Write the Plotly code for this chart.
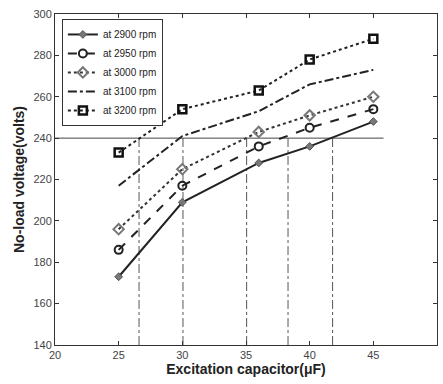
import plotly.graph_objects as go

capacitance = [25, 30, 36, 40, 45]
v_2900 = [173, 209, 228, 236, 248]
v_2950 = [186, 217, 236, 245, 254]
v_3000 = [196, 225, 243, 251, 260]
v_3100 = [217, 241, 253, 266, 273]
v_3200 = [233, 254, 263, 278, 288]
series_names = ["at 2900 rpm", "at 2950 rpm", "at 3000 rpm", "at 3100 rpm", "at 3200 rpm"]

rated_voltage = 240
hline_x = [20, 45.8]
crossing_caps = [26.6, 30.05, 35.05, 38.3, 41.8]
y_floor = 140

fig = go.Figure()

# reference horizontal line
fig.add_trace(go.Scatter(x=hline_x, y=[rated_voltage, rated_voltage], mode="lines",
                         line=dict(color="#444", width=1), showlegend=False, hoverinfo="skip"))
# vertical dash-dot lines
for c in crossing_caps:
    fig.add_trace(go.Scatter(x=[c, c], y=[y_floor, rated_voltage], mode="lines",
                             line=dict(color="#555", width=1, dash="dashdot"),
                             showlegend=False, hoverinfo="skip"))

styles = [
    dict(line=dict(color="#222", width=2, dash="solid"),
         marker=dict(symbol="diamond", size=6, color="#777", line=dict(color="#555", width=1))),
    dict(line=dict(color="#222", width=2, dash="dash"),
         marker=dict(symbol="circle-open", size=8, color="#222", line=dict(width=2))),
    dict(line=dict(color="#333", width=2, dash="dot"),
         marker=dict(symbol="diamond-open", size=8, color="#777", line=dict(width=2))),
    dict(line=dict(color="#222", width=2, dash="dashdot"),
         marker=dict(size=1, opacity=0)),
    dict(line=dict(color="#222", width=2, dash="dot"),
         marker=dict(symbol="square-open", size=8, color="#111", line=dict(width=2.5))),
]
series = [v_2900, v_2950, v_3000, v_3100, v_3200]
for name, vals, st in zip(series_names, series, styles):
    mode = "lines" if name == "at 3100 rpm" else "lines+markers"
    fig.add_trace(go.Scatter(x=capacitance, y=vals, mode=mode, name=name,
                             line=st["line"], marker=st["marker"]))

axis_common = dict(showline=True, linecolor="#333", linewidth=1, mirror="allticks",
                   ticks="inside", ticklen=4, tickcolor="#333", showgrid=False, zeroline=False,
                   automargin=False,
                   tickfont=dict(family="Liberation Sans, Arial", size=11, color="#444"))

fig.update_layout(
    width=443, height=384,
    margin=dict(l=55, r=6, t=14, b=39),
    paper_bgcolor="white", plot_bgcolor="white",
    font=dict(family="Liberation Sans, Arial", color="#222"),
    xaxis=dict(range=[20, 50], dtick=5, tick0=20,
               title=dict(text="<b>Excitation capacitor(μF)</b>", font=dict(size=14, color="#222"), standoff=3),
               **axis_common),
    yaxis=dict(range=[140, 300], dtick=20, tick0=140,
               title=dict(text="<b>No-load voltage(volts)</b>", font=dict(size=14, color="#222"), standoff=5),
               **axis_common),
    legend=dict(x=0.018, y=0.985, xanchor="left", yanchor="top", bgcolor="white",
                bordercolor="#333", borderwidth=1, font=dict(size=10, color="#222"),
                tracegroupgap=0, itemwidth=30),
)

fig.write_html("out.html", config={"displayModeBar": False},
               post_script="document.body.style.margin='0';document.body.style.overflow='hidden';")
